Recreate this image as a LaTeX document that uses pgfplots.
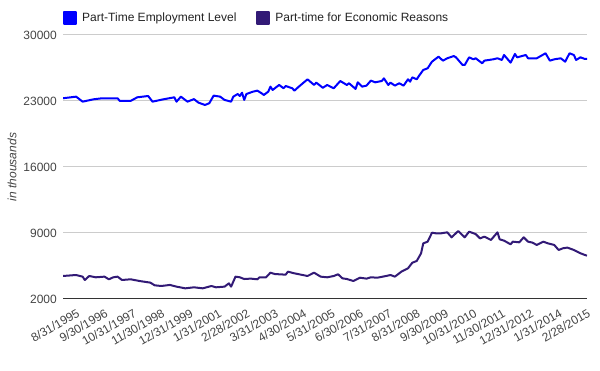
\documentclass[border=0pt]{standalone}
\usepackage{pgfplots}
\usepackage{pgfplotstable}
\pgfplotsset{compat=1.18}
\usepackage{fontspec}
\setmainfont{Liberation Sans}
\definecolor{ptblue}{RGB}{0,0,255}
\definecolor{ptpurple}{RGB}{50,26,118}
\definecolor{tickgray}{RGB}{68,68,68}
\definecolor{legtext}{RGB}{34,34,34}
\definecolor{gridgray}{RGB}{204,204,204}
\definecolor{axisdark}{RGB}{51,51,51}

\pgfplotstableread{
i v
0 23290
6 23460
9 22930
14 23180
18 23290
25 23290
26 23010
31 23010
34 23390
39 23530
41 22930
46 23180
51 23390
52 22930
54 23460
57 22930
60 23200
62 22830
65 22580
67 22760
69 23570
72 23460
74 23110
77 22930
78 23460
80 23740
81 23530
82 23880
83 23110
84 23740
87 23990
89 24100
91 23810
92 23640
94 23990
95 24520
96 24170
99 24700
101 24350
102 24590
105 24350
106 24100
108 24520
112 25300
115 24700
116 24950
119 24400
121 24700
124 24350
127 25120
130 24700
131 24880
134 24280
135 24980
137 24520
139 24630
141 25160
143 24980
146 25120
147 25400
149 24700
150 24950
152 24630
154 24880
156 24630
158 25300
159 25050
160 25510
162 25300
163 25650
165 26290
167 26470
169 27170
170 27350
172 27700
174 27280
176 27530
179 27770
180 27630
183 26820
184 26820
186 27630
188 27420
189 27530
192 27000
193 27280
197 27420
199 27530
201 27350
202 27880
205 27070
207 27990
208 27630
212 27880
213 27530
217 27530
221 28060
223 27280
225 27420
228 27530
230 27170
232 28060
234 27880
235 27350
237 27630
239 27460
240 27460
}\ptlevel

\pgfplotstableread{
i v
0 4440
6 4545
9 4370
10 4015
12 4440
15 4300
19 4370
21 4090
23 4300
25 4370
27 4015
31 4090
35 3910
40 3735
42 3450
45 3380
49 3490
52 3310
56 3130
60 3240
64 3130
68 3380
70 3240
74 3310
76 3660
77 3310
79 4370
81 4300
83 4120
86 4160
89 4090
90 4300
93 4300
95 4790
97 4650
99 4620
102 4580
103 4900
106 4720
109 4580
112 4440
115 4790
118 4370
121 4300
124 4440
126 4620
128 4190
130 4120
133 3910
136 4260
139 4160
141 4300
144 4260
148 4440
150 4545
152 4370
155 4900
158 5250
160 5850
162 6030
164 6840
165 7900
167 8080
169 9030
171 8960
173 8960
176 9070
178 8540
181 9210
184 8540
186 9140
189 8890
191 8430
193 8610
196 8260
199 9070
200 8330
202 8190
205 7800
206 8080
209 8010
211 8540
213 8080
215 7980
217 7730
220 8080
222 7910
225 7730
227 7200
229 7380
231 7450
234 7200
237 6850
239 6670
240 6600
}\pteconomic

\begin{document}
\begin{tikzpicture}
\path[use as bounding box] (0pt,0pt) rectangle (600pt,371pt);
\begin{axis}[
  at={(63pt,72pt)}, anchor=south west,
  width=524pt, height=264pt, scale only axis,
  xmin=0, xmax=240, ymin=2000, ymax=30000,
  ytick={2000,9000,16000,23000,30000},
  xtick={6,19,32,45,58,71,84,97,110,123,136,149,162,175,188,201,214,227,240},
  xticklabels={8/31/1995,9/30/1996,10/31/1997,11/30/1998,12/31/1999,1/31/2001,2/28/2002,3/31/2003,4/30/2004,5/31/2005,6/30/2006,7/31/2007,8/31/2008,9/30/2009,10/31/2010,11/30/2011,12/31/2012,1/31/2014,2/28/2015},
  ymajorgrids, grid style={gridgray, line width=1pt},
  axis x line*=bottom, axis y line*=left,
  y axis line style={draw=none},
  x axis line style={axisdark, line width=1pt, -},
  major tick length=0pt, tick style={draw=none},
  scaled y ticks=false,
  /pgf/number format/1000 sep={},
  /pgf/number format/assume math mode=true,
  ticklabel style={text=tickgray, font=\fontsize{12}{14}\selectfont},
  yticklabel style={anchor=east, xshift=-6pt, inner sep=0pt},
  xticklabel shift=9pt,
  xticklabel style={rotate=30, anchor=north east, inner sep=0pt},
  every axis y label/.style={at={(axis description cs:0,0.5)}, xshift=-51pt, rotate=90, anchor=center, font=\itshape\fontsize{12}{14}\selectfont, text=tickgray},
  ylabel={in thousands},
  legend style={at={(axis description cs:0,1)}, anchor=west, yshift=17pt, draw=none, fill=none, inner sep=0pt, nodes={inner sep=0pt, text=legtext, font=\fontsize{12}{14}\selectfont}, /tikz/every even column/.append style={column sep=20pt}},
  legend columns=2, legend cell align=left,
  legend image code/.code={\fill[#1] (0pt,-6pt) rectangle (12pt,6pt); \path (17pt,0pt);},
]
\addplot[ptblue, line width=2pt, line join=round] table[x=i,y=v] {\ptlevel};
\addlegendentry{Part-Time Employment Level}
\addplot[ptpurple, line width=2pt, line join=round] table[x=i,y=v] {\pteconomic};
\addlegendentry{Part-time for Economic Reasons}
\end{axis}
\end{tikzpicture}
\end{document}
